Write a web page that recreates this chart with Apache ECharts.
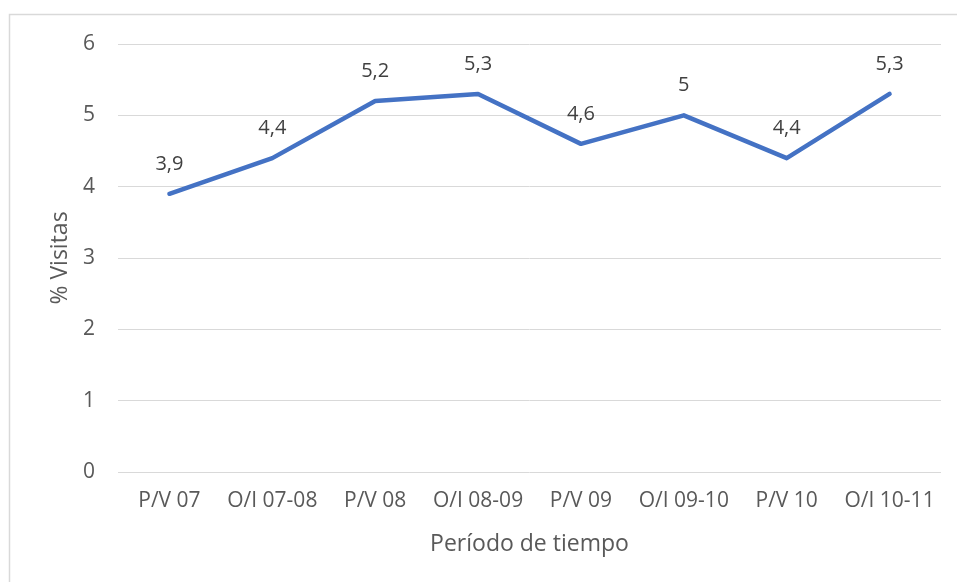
<!DOCTYPE html>
<html>
<head>
<meta charset="utf-8">
<script src="https://cdn.jsdelivr.net/npm/echarts@6/dist/echarts.min.js"></script>
<style>
  html, body { margin: 0; padding: 0; background: #fff; }
  #chart { width: 957px; height: 582px; }
</style>
</head>
<body>
<div id="chart"></div>
<script>
const categories = ['P/V 07', 'O/I 07-08', 'P/V 08', 'O/I 08-09', 'P/V 09', 'O/I 09-10', 'P/V 10', 'O/I 10-11']
const visitas = [3.9, 4.4, 5.2, 5.3, 4.6, 5.0, 4.4, 5.3]
const yTicks = [0, 1, 2, 3, 4, 5, 6]

const font = '"Open Sans", "Noto Sans", sans-serif'
const chart = echarts.init(document.getElementById('chart'))

const option = {
  animation: false,
  textStyle: { fontFamily: font },
  graphic: [
    {
      type: 'rect',
      shape: { x: 9.5, y: 14.5, width: 960, height: 580 },
      style: { fill: 'none', stroke: '#d9d9d9', lineWidth: 1.5 },
      silent: true,
    },
  ],
  grid: { left: 118, right: 16, top: 44, bottom: 110 },
  xAxis: {
    type: 'category',
    data: categories,
    boundaryGap: true,
    axisLine: { show: false },
    axisTick: { show: false },
    axisLabel: { color: '#595959', fontSize: 21, margin: 19, fontFamily: font, interval: 0 },
    name: 'Período de tiempo',
    nameLocation: 'middle',
    nameGap: 61,
    nameTextStyle: { color: '#595959', fontSize: 23, fontFamily: font },
  },
  yAxis: {
    type: 'value',
    min: yTicks[0],
    max: yTicks[yTicks.length - 1],
    interval: 1,
    axisLine: { show: false },
    axisTick: { show: false },
    axisLabel: { color: '#595959', fontSize: 21, margin: 23, fontFamily: font },
    splitLine: { lineStyle: { color: '#d9d9d9', width: 1 } },
    name: '% Visitas',
    nameLocation: 'middle',
    nameGap: 45,
    nameRotate: 90,
    nameTextStyle: { color: '#595959', fontSize: 23, fontFamily: font },
  },
  series: [
    {
      type: 'line',
      data: visitas,
      symbol: 'circle',
      symbolSize: 0,
      showSymbol: true,
      lineStyle: { color: '#4472c4', width: 4.5, cap: 'round', join: 'round' },
      itemStyle: { color: '#4472c4' },
      label: {
        show: true,
        position: 'top',
        distance: 20,
        color: '#404040',
        fontSize: 20,
        fontFamily: font,
        formatter: (p) => String(p.value).replace('.', ','),
      },
    },
  ],
}

chart.setOption(option)
</script>
</body>
</html>
